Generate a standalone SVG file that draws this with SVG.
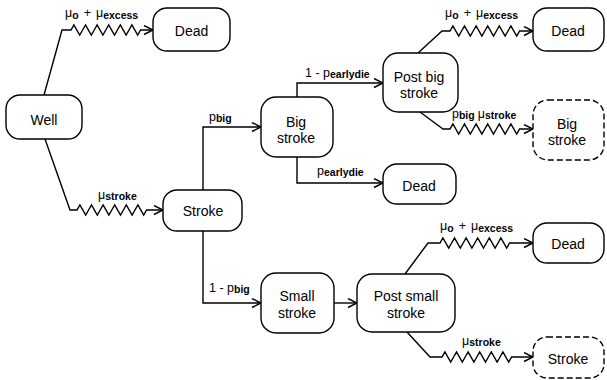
<svg xmlns="http://www.w3.org/2000/svg" width="607" height="380" viewBox="0 0 607 380">
<style>
.n{fill:#fff;stroke:#000;stroke-width:1.4}
.d{fill:#fff;stroke:#000;stroke-width:1.4;stroke-dasharray:6,3}
.t{font-family:"Liberation Sans",Arial,sans-serif;font-size:14px;fill:#000;text-anchor:middle}
.c{fill:none;stroke:#000;stroke-width:1.4;marker-end:url(#a)}
.l{font-family:"Liberation Sans",Arial,sans-serif;font-size:12.5px;fill:#000}
.s{font-size:10.5px;font-weight:bold}
</style>
<defs>
<marker id="a" markerUnits="userSpaceOnUse" markerWidth="12" markerHeight="12" refX="10" refY="5" orient="auto">
<path d="M1,0.5 L10,5 L1,9.5" fill="none" stroke="#000" stroke-width="1.4"/>
</marker>
</defs>
<g id="connectors">
<path class="c" d="M44,95 L62,30 H71 l2.9,-5 l5.8,10 l2.9,-5 l2.9,-5 l5.8,10 l2.9,-5 l2.9,-5 l5.8,10 l2.9,-5 l2.9,-5 l5.8,10 l2.9,-5 l2.9,-5 l5.8,10 l2.9,-5 l2.9,-5 l5.8,10 l2.9,-5 H153"/>
<path class="c" d="M45,139 L70,210 H77 l2.9,-5 l5.8,10 l2.9,-5 l2.9,-5 l5.8,10 l2.9,-5 l2.9,-5 l5.8,10 l2.9,-5 l2.9,-5 l5.8,10 l2.9,-5 l2.9,-5 l5.8,10 l2.9,-5 l2.9,-5 l5.8,10 l2.9,-5 H163"/>
<path class="c" d="M203,190 V127 H261"/>
<path class="c" d="M203,231 V303 H261"/>
<path class="c" d="M297,97 V83 H383"/>
<path class="c" d="M297,157 V183 H383"/>
<path class="c" d="M418,53 L442,31 H450 l2.9,-5 l5.8,10 l2.9,-5 l2.9,-5 l5.8,10 l2.9,-5 l2.9,-5 l5.8,10 l2.9,-5 l2.9,-5 l5.8,10 l2.9,-5 l2.9,-5 l5.8,10 l2.9,-5 l2.9,-5 l5.8,10 l2.9,-5 H533"/>
<path class="c" d="M420,112 L443,129 H450 l2.9,-5 l5.8,10 l2.9,-5 l2.9,-5 l5.8,10 l2.9,-5 l2.9,-5 l5.8,10 l2.9,-5 l2.9,-5 l5.8,10 l2.9,-5 l2.9,-5 l5.8,10 l2.9,-5 l2.9,-5 l5.8,10 l2.9,-5 H533"/>
<path class="c" d="M334,303 H357"/>
<path class="c" d="M405,274 L428,243 H440 l2.9,-5 l5.8,10 l2.9,-5 l2.9,-5 l5.8,10 l2.9,-5 l2.9,-5 l5.8,10 l2.9,-5 l2.9,-5 l5.8,10 l2.9,-5 l2.9,-5 l5.8,10 l2.9,-5 l2.9,-5 l5.8,10 l2.9,-5 H533"/>
<path class="c" d="M407,332 L430,357 H442 l2.9,-5 l5.8,10 l2.9,-5 l2.9,-5 l5.8,10 l2.9,-5 l2.9,-5 l5.8,10 l2.9,-5 l2.9,-5 l5.8,10 l2.9,-5 l2.9,-5 l5.8,10 l2.9,-5 l2.9,-5 l5.8,10 l2.9,-5 H533"/>
<text class="l" x="65" y="17">μ<tspan class="s" dy="2">o</tspan><tspan dy="-2" dx="5">+</tspan><tspan dx="5">μ</tspan><tspan class="s" dy="2">excess</tspan></text>
<text class="l" x="98" y="199">μ<tspan class="s" dy="1">stroke</tspan></text>
<text class="l" x="209" y="121">p<tspan class="s" dy="1">big</tspan></text>
<text class="l" x="209" y="292">1 - p<tspan class="s" dy="1">big</tspan></text>
<text class="l" x="305" y="77">1 - p<tspan class="s" dy="1">earlydie</tspan></text>
<text class="l" x="317" y="175">p<tspan class="s" dy="1">earlydie</tspan></text>
<text class="l" x="445" y="17">μ<tspan class="s" dy="2">o</tspan><tspan dy="-2" dx="5">+</tspan><tspan dx="5">μ</tspan><tspan class="s" dy="2">excess</tspan></text>
<text class="l" x="452" y="118">p<tspan class="s" dy="1">big</tspan><tspan dy="-1" dx="3">μ</tspan><tspan class="s" dy="1">stroke</tspan></text>
<text class="l" x="440" y="230">μ<tspan class="s" dy="2">o</tspan><tspan dy="-2" dx="5">+</tspan><tspan dx="5">μ</tspan><tspan class="s" dy="2">excess</tspan></text>
<text class="l" x="462" y="345">μ<tspan class="s" dy="1">stroke</tspan></text>
</g>
<g id="well"><rect class="n" x="6" y="95" width="76" height="44" rx="14"/><text class="t" x="44" y="125">Well</text></g>
<g id="dead1"><rect class="n" x="153" y="8" width="77" height="43" rx="14"/><text class="t" x="191.5" y="36">Dead</text></g>
<g id="stroke"><rect class="n" x="163" y="190" width="79" height="41" rx="14"/><text class="t" x="203" y="216">Stroke</text></g>
<g id="bigstroke"><rect class="n" x="261" y="97" width="72" height="60" rx="15"/><text class="t" x="296" y="127">Big</text><text class="t" x="296" y="143">stroke</text></g>
<g id="postbig"><rect class="n" x="383" y="53" width="75" height="59" rx="15"/><text class="t" x="419" y="82">Post big</text><text class="t" x="419" y="98">stroke</text></g>
<g id="dead2"><rect class="n" x="533" y="8" width="71" height="43" rx="14"/><text class="t" x="568" y="36">Dead</text></g>
<g id="bigstroke2"><rect class="d" x="533" y="100" width="71" height="60" rx="15"/><text class="t" x="567" y="129">Big</text><text class="t" x="567" y="145">stroke</text></g>
<g id="dead3"><rect class="n" x="383" y="164" width="73" height="40" rx="14"/><text class="t" x="419" y="191">Dead</text></g>
<g id="smallstroke"><rect class="n" x="261" y="273" width="73" height="60" rx="15"/><text class="t" x="297" y="301">Small</text><text class="t" x="297" y="318">stroke</text></g>
<g id="postsmall"><rect class="n" x="357" y="274" width="98" height="58" rx="15"/><text class="t" x="406" y="301">Post small</text><text class="t" x="406" y="318">stroke</text></g>
<g id="dead4"><rect class="n" x="533" y="223" width="71" height="40" rx="14"/><text class="t" x="568" y="249">Dead</text></g>
<g id="stroke2"><rect class="d" x="533" y="337" width="71" height="41" rx="14"/><text class="t" x="568" y="364">Stroke</text></g>
</svg>
